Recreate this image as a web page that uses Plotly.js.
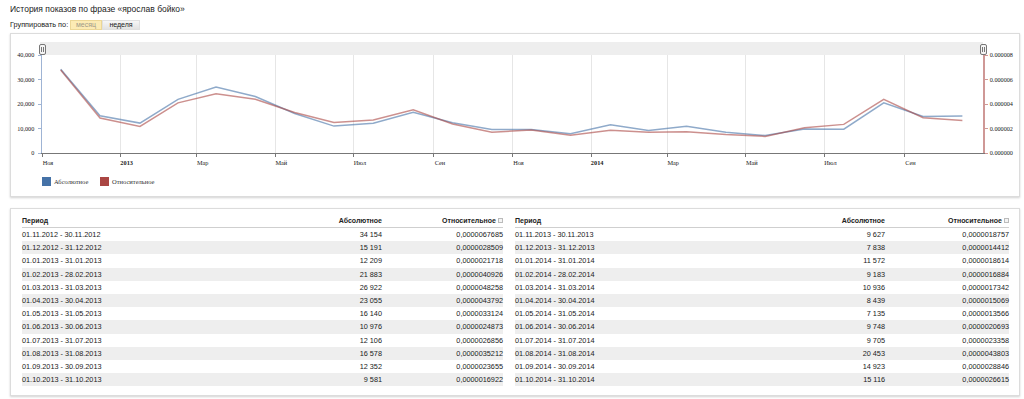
<!DOCTYPE html>
<html>
<head>
<meta charset="utf-8">
<script src="https://cdn.plot.ly/plotly-3.0.1.min.js"></script>
<style>
  html, body { margin:0; padding:0; width:1024px; height:399px; background:#fff; overflow:hidden; font-family:"Liberation Sans", Arial, sans-serif; }
  .abs { position:absolute; }
  .panel { position:absolute; background:#fff; border:1px solid #dcdcdc; box-shadow:0 1px 2px rgba(0,0,0,0.18); box-sizing:border-box; }
  #plot { position:absolute; left:0; top:0; width:1024px; height:399px; z-index:1; }
  .handle { position:absolute; width:5px; height:9px; border:1px solid #777; border-radius:2px; background:#f4f4f4; z-index:3; }
  .handle:after { content:""; position:absolute; left:1px; top:2px; width:1px; height:5px; border-left:1px solid #777; border-right:1px solid #777; }
  .leg { position:absolute; font-family:"Liberation Serif", "Times New Roman", serif; font-size:6.5px; color:#333; z-index:2; white-space:nowrap; }
  .sq { position:absolute; width:9px; height:9px; z-index:2; }
  .tbl { position:absolute; top:215px; z-index:2; color:#222; }
  .row { display:flex; height:13.2px; line-height:13.2px; font-size:7.3px; white-space:nowrap; }
  .row.h { height:12px; line-height:12px; font-size:7px; font-weight:bold; border-bottom:1px solid #cfcfcf; }
  .row.g { background:#eeeeee; }
  .c0 { text-align:left; }
  .c1, .c2 { text-align:right; }
  .ic { display:inline-block; width:5px; height:5px; border:1px solid #bbb; margin-left:2px; vertical-align:0px; box-sizing:border-box; background:#f4f4f4; }
</style>
</head>
<body>
<div class="abs" style="left:10px; top:4px; font-size:8.5px; color:#222; white-space:nowrap;">История показов по фразе «ярослав бойко»</div>
<div class="abs" style="left:10px; top:20px; font-size:7.3px; line-height:10px; color:#222; white-space:nowrap;">Группировать по:</div>
<div class="abs" style="left:70px; top:20px; width:32px; height:10px; box-sizing:border-box; background:#fcebb4; border:1px solid #ecd796; font-size:7px; line-height:8px; color:#a09a88; text-align:center;">месяц</div>
<div class="abs" style="left:102px; top:20px; width:38px; height:10px; box-sizing:border-box; background:linear-gradient(#f6f6f6,#e2e2e2); border:1px solid #e0e0e0; font-size:7px; line-height:8px; color:#222; text-align:center;">неделя</div>

<div class="panel" style="left:10px; top:33px; width:1010px; height:164px;"></div>
<div class="panel" style="left:10px; top:208px; width:1010px; height:188px;"></div>

<div class="abs" style="left:40px; top:42px; width:943px; height:13px; background:#eeeeee;"></div>
<div class="handle" style="left:39px; top:44px;"></div>
<div class="handle" style="left:980px; top:44px;"></div>

<div id="legend"></div>
<div id="tables"></div>

<div id="plot"></div>

<script>
// ---- data ----
const periods = [
  '01.11.2012 - 30.11.2012','01.12.2012 - 31.12.2012','01.01.2013 - 31.01.2013','01.02.2013 - 28.02.2013',
  '01.03.2013 - 31.03.2013','01.04.2013 - 30.04.2013','01.05.2013 - 31.05.2013','01.06.2013 - 30.06.2013',
  '01.07.2013 - 31.07.2013','01.08.2013 - 31.08.2013','01.09.2013 - 30.09.2013','01.10.2013 - 31.10.2013',
  '01.11.2013 - 30.11.2013','01.12.2013 - 31.12.2013','01.01.2014 - 31.01.2014','01.02.2014 - 28.02.2014',
  '01.03.2014 - 31.03.2014','01.04.2014 - 30.04.2014','01.05.2014 - 31.05.2014','01.06.2014 - 30.06.2014',
  '01.07.2014 - 31.07.2014','01.08.2014 - 31.08.2014','01.09.2014 - 30.09.2014','01.10.2014 - 31.10.2014'
];
const absoluteValues = [34154, 15191, 12209, 21883, 26922, 23055, 16140, 10976, 12106, 16578, 12352, 9581,
                        9627, 7838, 11572, 9183, 10936, 8439, 7135, 9748, 9705, 20453, 14923, 15116];
const relativeValues = [0.0000067685, 0.0000028509, 0.0000021718, 0.0000040926, 0.0000048258, 0.0000043792,
                        0.0000033124, 0.0000024873, 0.0000026856, 0.0000035212, 0.0000023655, 0.0000016922,
                        0.0000018757, 0.0000014412, 0.0000018614, 0.0000016884, 0.0000017342, 0.0000015069,
                        0.0000013566, 0.0000020693, 0.0000023358, 0.0000043803, 0.0000028846, 0.0000026615];
const seriesNames = ['Абсолютное', 'Относительное'];
const seriesColors = ['#4572a7', '#aa4643'];
const tickDates = ['2012-11-01','2013-01-01','2013-03-01','2013-05-01','2013-07-01','2013-09-01',
                   '2013-11-01','2014-01-01','2014-03-01','2014-05-01','2014-07-01','2014-09-01'];
const tickLabels = ['Ноя','<b>2013</b>','Мар','Май','Июл','Сен','Ноя','<b>2014</b>','Мар','Май','Июл','Сен'];
const leftTicks = [0, 10000, 20000, 30000, 40000];
const rightTicks = [0, 0.000002, 0.000004, 0.000006, 0.000008];
const tableHeaders = ['Период', 'Абсолютное', 'Относительное'];

// ---- helpers ----
function parseD(s){ const p = s.split('.'); return Date.UTC(+p[2], +p[1]-1, +p[0]); }
function midDate(period){
  const parts = period.split(' - ');
  const m = (parseD(parts[0]) + parseD(parts[1])) / 2;
  return new Date(m).toISOString().slice(0,19).replace('T',' ');
}
const xDates = periods.map(midDate);
const fmtAbs = v => String(v).replace(/\B(?=(\d{3})+(?!\d))/g, ' ');
const fmtRel = v => v.toFixed(10).replace('.', ',');

// ---- legend ----
(function(){
  const lg = document.getElementById('legend');
  const pos = [[42, 54], [100, 112]];
  seriesNames.forEach((n, i) => {
    const s = document.createElement('div'); s.className = 'sq';
    s.style.left = pos[i][0] + 'px'; s.style.top = '177px'; s.style.background = seriesColors[i];
    lg.appendChild(s);
    const t = document.createElement('div'); t.className = 'leg';
    t.style.left = pos[i][1] + 'px'; t.style.top = '178px'; t.textContent = n;
    lg.appendChild(t);
  });
})();

// ---- tables (built from the data arrays) ----
(function(){
  const holder = document.getElementById('tables');
  const half = Math.ceil(periods.length / 2);
  function build(from, to, left, widths){
    const t = document.createElement('div'); t.className = 'tbl';
    t.style.left = left + 'px';
    t.style.width = widths.reduce((a, b) => a + b, 0) + 'px';
    const mkRow = (cls, cells) => {
      const r = document.createElement('div'); r.className = 'row ' + cls;
      cells.forEach((c, i) => {
        const d = document.createElement('div'); d.className = 'c' + i;
        d.style.width = widths[i] + 'px';
        d.innerHTML = c;
        r.appendChild(d);
      });
      t.appendChild(r);
    };
    mkRow('h', tableHeaders.map((h, i) => h + (i === 2 ? '<span class="ic"></span>' : '')));
    for (let i = from; i < to; i++) {
      mkRow((i - from) % 2 ? 'g' : '', [periods[i], fmtAbs(absoluteValues[i]), fmtRel(relativeValues[i])]);
    }
    holder.appendChild(t);
  }
  build(0, half, 22, [240, 120, 121]);
  build(half, periods.length, 515, [250, 120, 124]);
})();

// ---- plot ----
const W = 1024, H = 399;
const serif = '"Liberation Serif", "Times New Roman", serif';

const traces = [
  { type:'scatter', mode:'lines', x:xDates, y:absoluteValues, name:seriesNames[0],
    line:{color:'rgba(69,114,167,0.6)', width:1.5}, showlegend:false, hoverinfo:'skip' },
  { type:'scatter', mode:'lines', x:xDates, y:relativeValues, name:seriesNames[1], yaxis:'y2',
    line:{color:'rgba(170,70,67,0.6)', width:1.5}, showlegend:false, hoverinfo:'skip' }
];

const layout = {
  width:W, height:H, margin:{l:0, r:0, t:0, b:0},
  paper_bgcolor:'rgba(0,0,0,0)', plot_bgcolor:'rgba(0,0,0,0)',
  showlegend:false,
  xaxis:{ type:'date', domain:[42/W, 983/W], range:['2012-11-01','2014-11-01'],
          tickmode:'array', tickvals:tickDates, ticktext:tickLabels,
          ticks:'outside', ticklen:3, tickcolor:'#777', tickwidth:1,
          showline:true, linecolor:'#777', linewidth:1,
          showgrid:true, gridcolor:'#e6e6e6', gridwidth:1, zeroline:false,
          tickfont:{family:serif, size:6.3, color:'#222'}, ticklabelshift:6, ticklabelstandoff:0, fixedrange:true },
  yaxis:{ domain:[(H-153)/H, (H-55)/H], range:[0, 40000], tickmode:'array', tickvals:leftTicks,
          tickformat:',', ticks:'outside', ticklen:3, tickcolor:'#9fb4d4',
          showline:true, linecolor:'#9fb4d4', linewidth:1.5, showgrid:false, zeroline:false,
          tickfont:{family:serif, size:6.2, color:'#222'}, ticklabelstandoff:2, fixedrange:true },
  yaxis2:{ overlaying:'y', side:'right', anchor:'x', range:[0, 0.000008], tickmode:'array', tickvals:rightTicks,
          tickformat:'.6f', ticks:'outside', ticklen:3, tickcolor:'#cf9896',
          showline:true, linecolor:'#cf9896', linewidth:1.5, showgrid:false, zeroline:false,
          tickfont:{family:serif, size:6.2, color:'#222'}, ticklabelstandoff:1, fixedrange:true }
};

Plotly.newPlot('plot', traces, layout, {staticPlot:true, displayModeBar:false});
</script>
</body>
</html>
